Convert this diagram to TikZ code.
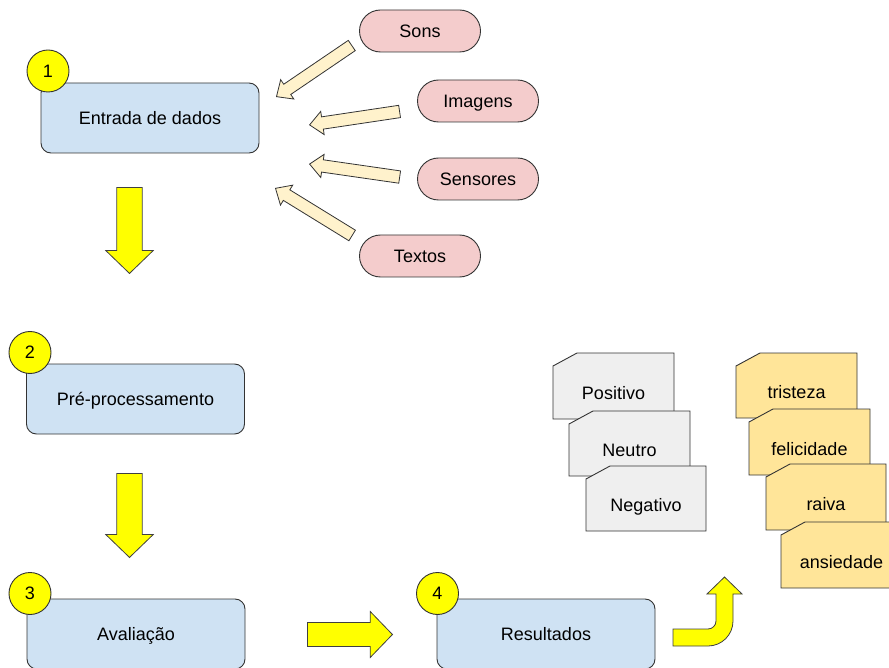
\documentclass[tikz,border=0pt]{standalone}
\usepackage{fontspec}
\setmainfont{Liberation Sans}
\usetikzlibrary{shapes.arrows}

\definecolor{stepblue}{HTML}{CFE2F3}
\definecolor{badgeyellow}{HTML}{FFFF00}
\definecolor{sourcepink}{HTML}{F4CCCC}
\definecolor{feedcream}{HTML}{FFF2CC}
\definecolor{cardgray}{HTML}{EFEFEF}
\definecolor{cardyellow}{HTML}{FFE599}
\definecolor{edge}{HTML}{333333}

\tikzset{
  txt/.style={font=\fontsize{18}{21}\selectfont, text=black, text height=12.8pt, text depth=0pt},
  stepbox/.style={txt, draw=edge, line width=0.9pt, fill=stepblue,
    rectangle, rounded corners=10pt, minimum width=218pt, minimum height=70pt, inner sep=0pt},
  badge/.style={txt, draw=edge, line width=0.9pt, fill=badgeyellow,
    circle, minimum size=42pt, inner sep=0pt},
  source/.style={txt, draw=edge, line width=0.9pt, fill=sourcepink,
    rectangle, rounded corners=21pt, minimum width=121pt, minimum height=42pt, inner sep=0pt},
  feed/.style={single arrow, draw=edge, line width=0.8pt, fill=feedcream,
    inner xsep=0pt, inner ysep=5.8pt, single arrow head extend=5.5pt,
    single arrow tip angle=84, anchor=tip},
  flow/.style={single arrow, draw=black!75, line width=0.8pt, fill=badgeyellow,
    inner xsep=0pt, inner ysep=12.3pt, single arrow head extend=11pt,
    single arrow tip angle=92, anchor=tip},
  cardline/.style={draw=edge, line width=0.9pt},
  cardtext/.style={txt, inner sep=0pt},
}

% card with a snipped top-left corner: name, left, top, right, bottom, fill, label
\newcommand\snipcard[7]{%
  \filldraw[cardline, fill=#6] (#2,#3+13) -- (#2+24,#3) -- (#4,#3) -- (#4,#5) -- (#2,#5) -- cycle;
  \node[cardtext] (#1) at ({(#2+#4)/2},{(#3+#5)/2+7}) {#7};
}

\begin{document}
\begin{tikzpicture}[x=1pt,y=-1pt]
\useasboundingbox (0,0) rectangle (889,668);
\clip (0,0) rectangle (889,668);

% process steps
\node[stepbox] (entrada) at (150,118) {Entrada de dados};
\node[stepbox] (prep) at (135.5,399) {Pré-processamento};
\node[stepbox] (aval) at (136,634) {Avaliação};
\node[stepbox] (result) at (546,634) {Resultados};

\node[badge] (b1) at (48,71) {1};
\node[badge] (b2) at (30,352.5) {2};
\node[badge] (b3) at (30,593.5) {3};
\node[badge] (b4) at (437.5,593.5) {4};

% data sources
\node[source] (sons) at (420,31) {Sons};
\node[source] (imagens) at (478,101) {Imagens};
\node[source] (sensores) at (478,179) {Sensores};
\node[source] (textos) at (420,256) {Textos};

% inputs flowing into the first step
\node[feed, minimum height=91pt, rotate=214.2] (fsons) at (276,97) {};
\node[feed, minimum height=91pt, rotate=188.5] (fimg) at (309,125) {};
\node[feed, minimum height=91pt, rotate=171.8] (fsen) at (309,164) {};
\node[feed, minimum height=90pt, rotate=148.4] (ftxt) at (275,188) {};

% main flow arrows
\node[flow, minimum height=86pt, rotate=-90] (d1) at (129.5,274) {};
\node[flow, minimum height=84pt, rotate=-90] (d2) at (129.5,558) {};
\node[flow, minimum height=85pt, inner ysep=11.6pt] (r1) at (393,634.5) {};

% bent arrow up to the outputs
\filldraw[draw=black!75, line width=0.8pt, fill=badgeyellow]
  (673,629) -- (708,629) .. controls (712.4,629) and (716,625.4) .. (716,621)
  -- (716,594) -- (707,594) -- (724.5,577) -- (742,594) -- (733,594) -- (733,621)
  .. controls (733,634.8) and (721.8,646) .. (708,646) -- (673,646) -- cycle;

% sentiment polarity cards
\snipcard{positivo}{553}{353}{674}{419}{cardgray}{Positivo}
\snipcard{neutro}{569}{411}{690}{476}{cardgray}{Neutro}
\snipcard{negativo}{586}{466}{706}{531}{cardgray}{Negativo}

% emotion cards
\snipcard{tristeza}{736}{353}{857}{418}{cardyellow}{tristeza}
\snipcard{felicidade}{749}{409}{870}{475}{cardyellow}{felicidade}
\snipcard{raiva}{766}{464}{886}{530}{cardyellow}{raiva}
\snipcard{ansiedade}{781}{522}{902}{588}{cardyellow}{ansiedade}
\end{tikzpicture}
\end{document}
